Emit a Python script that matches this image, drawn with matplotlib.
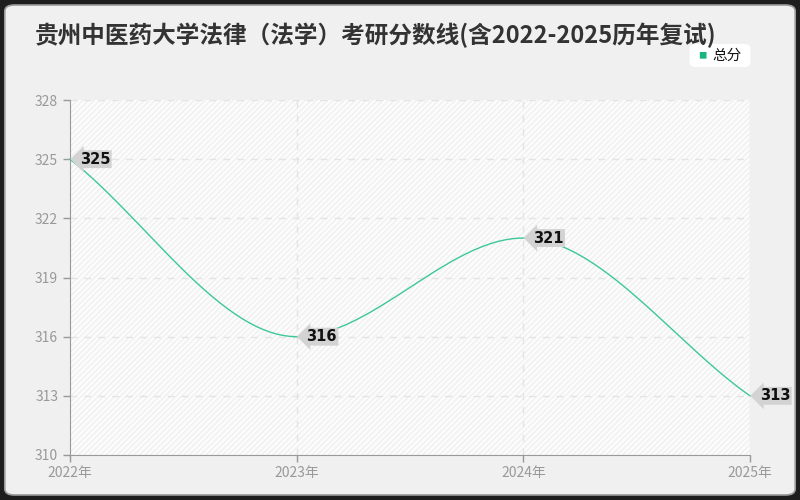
import numpy as np
import matplotlib
matplotlib.use('Agg')
import matplotlib.pyplot as plt
from matplotlib.patches import FancyBboxPatch, Rectangle

plt.rcParams['font.family'] = ['Noto Sans CJK SC', 'DejaVu Sans']

title = '贵州中医药大学法律（法学）考研分数线(含2022-2025历年复试)'
years = [2022, 2023, 2024, 2025]
xlabels = ['2022年', '2023年', '2024年', '2025年']
scores = [325, 316, 321, 313]
yticks = [310, 313, 316, 319, 322, 325, 328]
series_name = '总分'
line_color = '#3cc79c'


def smooth_curve(x, y, n=60):
    # hermite spline, flat tangent at local extremes
    x = np.asarray(x, float)
    y = np.asarray(y, float)
    m = np.zeros(len(x))
    for i in range(len(x)):
        if i == 0:
            m[i] = (y[1] - y[0]) / (x[1] - x[0])
        elif i == len(x) - 1:
            m[i] = (y[-1] - y[-2]) / (x[-1] - x[-2])
        else:
            d0 = y[i] - y[i - 1]
            d1 = y[i + 1] - y[i]
            if d0 * d1 <= 0:
                m[i] = 0
            else:
                m[i] = (y[i + 1] - y[i - 1]) / (x[i + 1] - x[i - 1])
    xs, ys = [], []
    for i in range(len(x) - 1):
        h = x[i + 1] - x[i]
        t = np.linspace(0, 1, n)
        h00 = 2 * t**3 - 3 * t**2 + 1
        h10 = t**3 - 2 * t**2 + t
        h01 = -2 * t**3 + 3 * t**2
        h11 = t**3 - t**2
        xs.append(x[i] + t * h)
        ys.append(h00 * y[i] + h10 * h * m[i] + h01 * y[i + 1] + h11 * h * m[i + 1])
    return np.concatenate(xs), np.concatenate(ys)


fig = plt.figure(figsize=(8, 5), dpi=100)
fig.patch.set_facecolor('#1e1e1e')
bg = FancyBboxPatch((0.006, 0.01), 0.988, 0.98, boxstyle='round,pad=0,rounding_size=0.012',
                    transform=fig.transFigure, facecolor='#f0f0f0', edgecolor='#9a9a9a',
                    linewidth=1.2, zorder=-10)
fig.patches.append(bg)

ax = fig.add_axes([0.0875, 0.09, 0.85, 0.71])
ax.set_facecolor('#fcfcfc')
ax.add_patch(Rectangle((0, 0), 1, 1, transform=ax.transAxes, facecolor='none',
                       edgecolor='#f0f0f0', hatch='//////', linewidth=0, zorder=0))

ax.set_xlim(years[0], years[-1])
ax.set_ylim(yticks[0], yticks[-1])
ax.set_yticks(yticks)
ax.set_xticks(years)
ax.set_xticklabels(xlabels)
ax.tick_params(axis='both', colors='#999999', labelsize=10, length=5, width=1)
ax.tick_params(axis='x', pad=3)
for lab in ax.get_xticklabels() + ax.get_yticklabels():
    lab.set_color('#999999')
for s in ['top', 'right']:
    ax.spines[s].set_visible(False)
ax.spines['left'].set_color('#999999')
ax.spines['bottom'].set_color('#999999')
ax.axvline(years[-1], color='#e6e6e6', lw=1, zorder=1)

for yv in yticks[1:]:
    ax.axhline(yv, color='#e4e4e4', lw=1, ls=(0, (5, 5)), zorder=1)
for xv in years[1:-1]:
    ax.axvline(xv, color='#e4e4e4', lw=1, ls=(0, (5, 5)), zorder=1)

sx, sy = smooth_curve(years, scores)
ax.plot(sx, sy, color=line_color, lw=1, zorder=3, clip_on=False)

for xv, yv in zip(years, scores):
    ax.annotate(str(yv), xy=(xv, yv), xytext=(7, 0), textcoords='offset points',
                ha='left', va='center', fontsize=10.5, fontweight='bold', color='#111111',
                family='DejaVu Sans',
                bbox=dict(boxstyle='larrow,pad=0.1', facecolor='#d3d3d3', edgecolor='none'),
                zorder=5, annotation_clip=False)

fig.text(0.044, 0.93, title, fontsize=17, fontweight='bold', color='#333333',
         ha='left', va='center')

leg_box = FancyBboxPatch((0.862, 0.866), 0.076, 0.046, boxstyle='round,pad=0,rounding_size=0.008',
                         transform=fig.transFigure, facecolor='white', edgecolor='none', zorder=1)
fig.patches.append(leg_box)
fig.text(0.878, 0.888, '■', color='#18b583', fontsize=6, ha='center', va='center')
fig.text(0.891, 0.888, series_name, color='#111111', fontsize=10.5, ha='left', va='center')

fig.savefig('out.png', dpi=100, facecolor=fig.get_facecolor())
